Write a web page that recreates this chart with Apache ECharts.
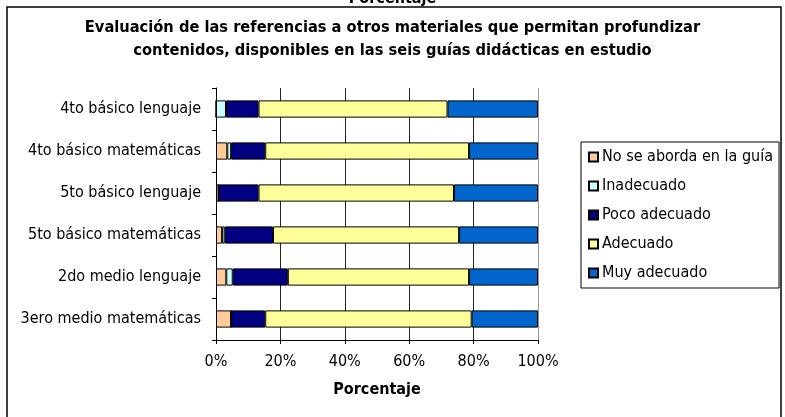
<!DOCTYPE html>
<html>
<head>
<meta charset="utf-8">
<script src="https://cdn.jsdelivr.net/npm/echarts@6/dist/echarts.min.js"></script>
<style>
  html, body { margin: 0; padding: 0; background: #fff; }
  #chart { width: 785px; height: 417px; }
</style>
</head>
<body>
<div id="chart"></div>
<script>
// Guides under review, top to bottom
const categories = [
  '4to básico lenguaje',
  '4to básico matemáticas',
  '5to básico lenguaje',
  '5to básico matemáticas',
  '2do medio lenguaje',
  '3ero medio matemáticas'
];

// Share of references (%) in each rating, per guide
const noSeAborda   = [0.0, 3.5, 0.8, 1.9, 3.2, 4.7];
const inadecuado   = [3.1, 1.2, 0.0, 0.8, 2.0, 0.0];
const pocoAdecuado = [10.1, 10.6, 12.4, 15.0, 17.1, 10.6];
const adecuado     = [58.7, 63.3, 60.7, 57.8, 56.3, 64.1];
const muyAdecuado  = [28.1, 21.4, 26.1, 24.5, 21.4, 20.6];

const seriesNames = ['No se aborda en la guía', 'Inadecuado', 'Poco adecuado', 'Adecuado', 'Muy adecuado'];
const seriesColors = ['#FFCC99', '#CCFFFF', '#000080', '#FFFF99', '#0066CC'];
const seriesData = [noSeAborda, inadecuado, pocoAdecuado, adecuado, muyAdecuado];

const xTicks = [0, 20, 40, 60, 80, 100];

const FONT = '"DejaVu Sans Condensed", "DejaVu Sans", sans-serif';

const chart = echarts.init(document.getElementById('chart'), null, { renderer: 'canvas' });

chart.setOption({
  backgroundColor: '#ffffff',
  animation: false,
  textStyle: { fontFamily: FONT, color: '#000' },
  title: {
    text: 'Evaluación de las referencias a otros materiales que permitan profundizar\ncontenidos, disponibles en las seis guías didácticas en estudio',
    left: 'center',
    top: 11,
    textStyle: { fontFamily: FONT, fontSize: 16.3, fontWeight: 'bold', color: '#000', lineHeight: 23 }
  },
  legend: {
    orient: 'vertical',
    left: 581,
    top: 142,
    padding: [6, 6, 6, 7],
    itemWidth: 9,
    itemHeight: 9,
    itemGap: 11,
    icon: 'rect',
    borderColor: '#000',
    borderWidth: 1,
    borderRadius: 0,
    data: seriesNames,
    textStyle: { fontFamily: FONT, fontSize: 16, color: '#000', lineHeight: 18, padding: [0, 0, 0, -1] }
  },
  grid: { left: 216, right: 247, top: 88, bottom: 77, containLabel: false },
  xAxis: {
    type: 'value',
    min: xTicks[0],
    max: xTicks[xTicks.length - 1],
    interval: 20,
    name: 'Porcentaje',
    nameLocation: 'middle',
    nameGap: 42,
    nameTextStyle: { fontFamily: FONT, fontSize: 16, fontWeight: 'bold', color: '#000' },
    axisLine: { show: true, lineStyle: { color: '#000', width: 1 } },
    axisTick: { show: true, length: 4, lineStyle: { color: '#000' } },
    axisLabel: { fontFamily: FONT, fontSize: 16, color: '#000', margin: 14, formatter: v => v + '%' },
    splitLine: { show: true, lineStyle: { color: ['#000', '#222', '#222', '#222', '#222', '#999'], width: 1 } }
  },
  yAxis: {
    type: 'category',
    data: categories,
    inverse: true,
    axisLine: { show: true, lineStyle: { color: '#000', width: 1 } },
    axisTick: { show: true, length: 4, lineStyle: { color: '#000' } },
    axisLabel: { fontFamily: FONT, fontSize: 16, color: '#000', margin: 15 },
    splitLine: { show: false }
  },
  series: seriesNames.map((name, i) => ({
    name,
    type: 'bar',
    stack: 'total',
    data: seriesData[i],
    barWidth: '41%',
    itemStyle: { color: seriesColors[i], borderColor: '#000', borderWidth: 1 },
    emphasis: { disabled: true }
  })),
  graphic: [
    {
      type: 'rect',
      shape: { x: 7, y: 7, width: 774, height: 420 },
      style: { fill: 'none', stroke: '#000', lineWidth: 1.5 },
      z: 100
    },
    {
      type: 'text',
      left: 'center',
      top: -9,
      style: {
        text: 'Porcentaje',
        font: 'bold 16px ' + FONT,
        fill: '#000'
      },
      z: 99
    }
  ]
});
</script>
</body>
</html>
